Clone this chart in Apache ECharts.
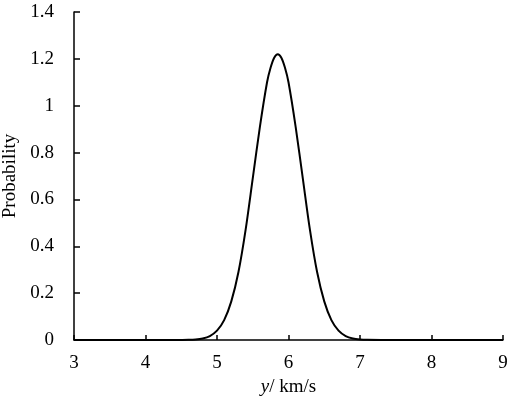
<!DOCTYPE html>
<html>
<head>
<meta charset="utf-8">
<script src="https://cdn.jsdelivr.net/npm/echarts@6/dist/echarts.min.js"></script>
<style>
  html, body { margin: 0; padding: 0; background: #fff; }
  #chart { width: 512px; height: 402px; }
</style>
</head>
<body>
<div id="chart"></div>
<script>
// velocity (km/s) and probability
const speed = [3, 4, 4.4, 4.5, 4.6, 4.7, 4.8, 4.9, 5.0, 5.1, 5.2, 5.3, 5.4, 5.5, 5.6, 5.7, 5.75, 5.8, 5.85, 5.9, 5.95, 6.0, 6.1, 6.2, 6.3, 6.4, 6.5, 6.6, 6.7, 6.8, 6.9, 7.0, 7.1, 7.3, 8, 9]
const probability = [0, 0, 0, 0.0002, 0.0007, 0.0023, 0.0066, 0.017, 0.04, 0.085, 0.165, 0.29, 0.47, 0.69, 0.91, 1.10, 1.163, 1.205, 1.22, 1.205, 1.163, 1.10, 0.91, 0.69, 0.47, 0.29, 0.165, 0.085, 0.04, 0.017, 0.0066, 0.0023, 0.0007, 0, 0, 0]
const xTicks = [3, 4, 5, 6, 7, 8, 9]
const yTicks = [0, 0.2, 0.4, 0.6, 0.8, 1, 1.2, 1.4]

const chart = echarts.init(document.getElementById('chart'))

const font = 'Liberation Serif'
const axisColor = '#000'

const option = {
  animation: false,
  backgroundColor: '#fff',
  grid: { left: 74, right: 9, top: 12, bottom: 62, containLabel: false, outerBoundsMode: 'none' },
  xAxis: {
    type: 'value',
    min: xTicks[0],
    max: xTicks[xTicks.length - 1],
    interval: 1,
    name: '{i|y}/ km/s',
    nameLocation: 'middle',
    nameGap: 37,
    nameTextStyle: {
      fontFamily: font,
      fontSize: 19,
      color: '#000',
      rich: {
        i: { fontFamily: font, fontSize: 19, fontStyle: 'italic', color: '#000' }
      }
    },
    axisLine: { lineStyle: { color: axisColor, width: 1.5 } },
    axisTick: { inside: true, length: 5, lineStyle: { color: axisColor, width: 1.5 } },
    axisLabel: { fontFamily: font, fontSize: 19, color: '#000', margin: 14 },
    splitLine: { show: false }
  },
  yAxis: {
    type: 'value',
    min: yTicks[0],
    max: yTicks[yTicks.length - 1],
    interval: 0.2,
    name: 'Probability',
    nameLocation: 'middle',
    nameGap: 52,
    nameTextStyle: { fontFamily: font, fontSize: 19, color: '#000' },
    axisLine: { show: true, lineStyle: { color: axisColor, width: 1.5 } },
    axisTick: { show: true, inside: true, length: 6, lineStyle: { color: axisColor, width: 1.5 } },
    axisLabel: {
      fontFamily: font, fontSize: 19, color: '#000', margin: 20,
      formatter: v => String(Math.round(v * 10) / 10)
    },
    splitLine: { show: false }
  },
  series: [{
    type: 'line',
    data: speed.map((s, i) => [s, probability[i]]),
    smooth: 0.3,
    showSymbol: false,
    lineStyle: { color: '#000', width: 2 }
  }]
}

chart.setOption(option)
</script>
</body>
</html>
